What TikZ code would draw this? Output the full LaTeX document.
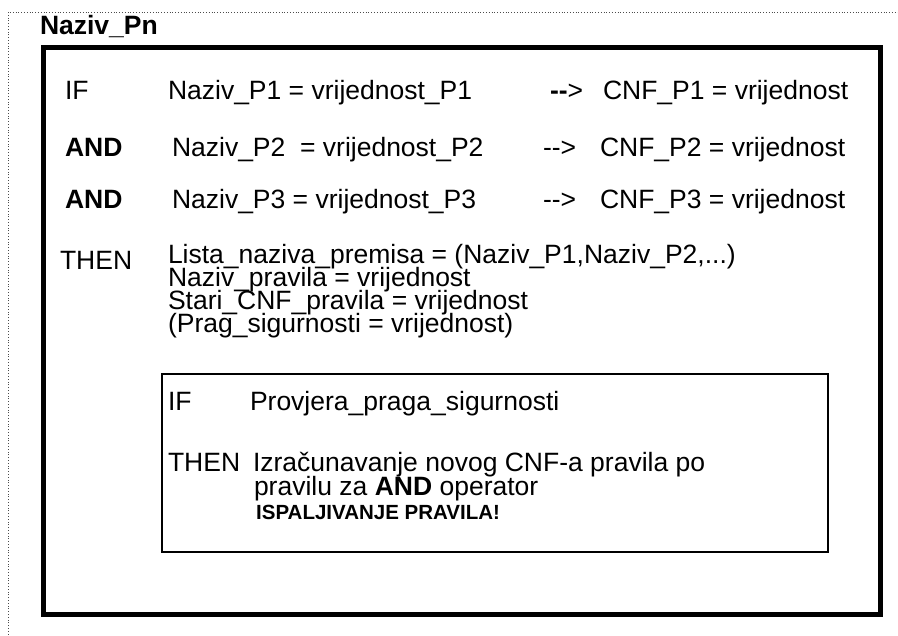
\documentclass[tikz,border=0pt]{standalone}
\usepackage{fontspec}
\setmainfont[Ligatures=NoCommon]{Liberation Sans}
\newcommand{\dasharr}{-\kern0pt-\kern0pt>}
\begin{document}
\begin{tikzpicture}[x=1pt,y=-1pt,
  txt/.style={anchor=base west,inner sep=0pt,outer sep=0pt,font=\fontsize{26.5}{25}\selectfont},
  btxt/.style={txt,font=\fontsize{26.5}{25}\selectfont\bfseries},
  small/.style={anchor=base west,inner sep=0pt,font=\fontsize{20.5}{24}\selectfont\bfseries},
  frame/.style={draw=black,line width=5pt},
  innerframe/.style={draw=black,line width=2.2pt},
  dotframe/.style={draw=black!70,line width=0.8pt,dotted}]
\useasboundingbox (0,0) rectangle (898,636);
% outer dotted frame
\coordinate (d1) at (8,640);
\coordinate (d2) at (8,12);
\coordinate (d3) at (902,12);
\draw[dotframe] (d1) -- (d2) -- (d3);
% title
\node[btxt] (title) at (40,35) {Naziv\_Pn};
% main box
\node[frame,minimum width=837pt,minimum height=567pt,anchor=north west,inner sep=0pt] (mainbox) at (40.5,45) {};
% rows
\node[txt]  (if1) at (65,100) {IF};
\node[txt]  (c1)  at (168,100) {Naziv\_P1 = vrijednost\_P1};
\node[txt]  (a1)  at (550,100) {{\bfseries -\kern0pt-}\kern0pt>};
\node[txt]  (r1)  at (603,100) {CNF\_P1 = vrijednost};
\node[btxt] (and2) at (65,157) {AND};
\node[txt]  (c2)  at (172,157) {Naziv\_P2\ \ = vrijednost\_P2};
\node[txt]  (a2)  at (543,157) {\dasharr};
\node[txt]  (r2)  at (600,157) {CNF\_P2 = vrijednost};
\node[btxt] (and3) at (65,209) {AND};
\node[txt]  (c3)  at (172,209) {Naziv\_P3 = vrijednost\_P3};
\node[txt]  (a3)  at (543,209) {\dasharr};
\node[txt]  (r3)  at (600,209) {CNF\_P3 = vrijednost};
% THEN block
\node[txt] (then1) at (60,270) {THEN};
\node[txt] (t1) at (168,264) {Lista\_naziva\_premisa = (Naziv\_P1,Naziv\_P2,...)};
\node[txt] (t2) at (168,287) {Naziv\_pravila = vrijednost};
\node[txt] (t3) at (168,310) {Stari\_CNF\_pravila = vrijednost};
\node[txt] (t4) at (168,333) {(Prag\_sigurnosti = vrijednost)};
% inner box
\node[innerframe,minimum width=666.3pt,minimum height=177.5pt,anchor=north west,inner sep=0pt] (innerbox) at (160.7,373) {};
\node[txt] (if2) at (168,411) {IF};
\node[txt] (p1) at (250,411) {Provjera\_praga\_sigurnosti};
\node[txt] (then2) at (168,472) {THEN};
\node[txt] (p2) at (253,472) {Izračunavanje novog CNF-a pravila po};
\node[txt] (p3) at (254,496) {pravilu za \textbf{AND} operator};
\node[small] (p4) at (256,520) {ISPALJIVANJE PRAVILA!};
\end{tikzpicture}
\end{document}
